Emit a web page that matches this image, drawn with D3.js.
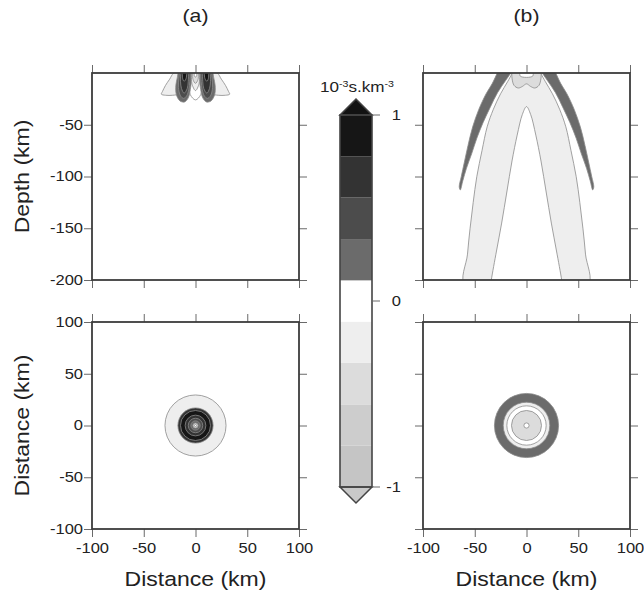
<!DOCTYPE html>
<html>
<head>
<meta charset="utf-8">
<script src="https://cdn.jsdelivr.net/npm/d3@7"></script>
<style>
  body { margin: 0; background: #fff; }
  svg { display: block; }
  text { font-family: "Liberation Sans", Arial, Helvetica, sans-serif; fill: #222; }
</style>
</head>
<body>
<svg id="fig" width="644" height="594"></svg>
<script>
// ---- colour classes of the kernel (10^-3 s.km^-3) ----
const levelEdges = [-1, -0.778, -0.556, -0.333, -0.111, 0.111, 0.333, 0.556, 0.778, 1];
const levelFills = ["#c5c5c5", "#cdcdcd", "#dcdcdc", "#eeeeee", "#ffffff", "#6b6b6b", "#4c4c4c", "#333333", "#161616"];
const belowFill = "#c9c9c9";
const aboveFill = "#121212";
const barTicks = [-1, 0, 1];

// ---- axis ticks ----
const distTicks = [-100, -50, 0, 50, 100];
const depthTicks = [-200, -150, -100, -50];
const panelTitles = ["(a)", "(b)"];

// ---- panel (a), depth section: contour outlines as [distance km, depth km] ----
const aPetalLeft  = [[-12, 3], [-21, 0], [-25, -6], [-29, -12], [-32, -18], [-33, -20.5], [-29, -21.5], [-22, -21.5], [-16, -20], [-12, -10], [-10, 3]];
const aPetalRight = [[12, 3], [21, 0], [25, -6], [29, -12], [32, -18], [33, -20.5], [29, -21.5], [22, -21.5], [16, -20], [12, -10], [10, 3]];
const aCore1 = [[-6, 3], [-6, -12], [-5, -21], [0, -26], [5, -21], [6, -12], [6, 3]];
const aLobeL1 = [[-3.5, 3], [-4, -8], [-5, -16], [-7, -24], [-10.5, -28], [-15, -27], [-18.5, -21], [-19, -12], [-17.5, -4], [-16.5, 3]];
const aLobeL2 = [[-5, 3], [-5.5, -8], [-6.5, -16], [-8.5, -22], [-11.5, -24.5], [-14.5, -22], [-16.5, -14], [-16, -5], [-15, 3]];
const aLobeL3 = [[-6.5, 3], [-7, -8], [-8, -15], [-11, -19.5], [-13.5, -15], [-14.5, -8], [-14, 3]];
const aLobeL4 = [[-8.5, 3], [-9, -5], [-11, -8], [-12.5, -5], [-12.5, 3]];
const aLobeR1 = [[3.5, 3], [4, -8], [5, -16], [7, -24], [10.5, -28], [15, -27], [18.5, -21], [19, -12], [17.5, -4], [16.5, 3]];
const aLobeR2 = [[5, 3], [5.5, -8], [6.5, -16], [8.5, -22], [11.5, -24.5], [14.5, -22], [16.5, -14], [16, -5], [15, 3]];
const aLobeR3 = [[6.5, 3], [7, -8], [8, -15], [11, -19.5], [13.5, -15], [14.5, -8], [14, 3]];
const aLobeR4 = [[8.5, 3], [9, -5], [11, -8], [12.5, -5], [12.5, 3]];
const aCore2 = [[-3.5, 3], [-3.5, -10], [0, -17], [3.5, -10], [3.5, 3]];
const aCore3 = [[-2.5, 3], [-2.5, -6], [0, -10], [2.5, -6], [2.5, 3]];
const aCore4 = [[-1, 3], [-1, -3], [0, -4], [1, -3], [1, 3]];
const aSectionShapes = [aPetalLeft, aPetalRight, aCore1, aLobeL1, aLobeR1, aLobeL2, aLobeR2, aLobeL3, aLobeR3, aLobeL4, aLobeR4, aCore2, aCore3, aCore4];
const aSectionValues = [-0.2, -0.2, 0, 0.2, 0.2, 0.45, 0.45, 0.65, 0.65, 0.9, 0.9, -0.2, -0.45, 0];

// ---- panel (b), depth section ----
const bLight = [[-12, 3], [-18, -8], [-25, -20], [-32, -35], [-38, -52], [-43, -75], [-48, -100], [-51.5, -125], [-54.5, -150], [-57, -175], [-59, -206],
                [59, -206], [57, -175], [54.5, -150], [51.5, -125], [48, -100], [43, -75], [38, -52], [32, -35], [25, -20], [18, -8], [12, 3]];
const bCore = [[-35, -208], [-34, -200], [-29, -172], [-24, -145], [-19, -115], [-14, -85], [-9, -60], [-4, -40], [0, -32.5],
               [4, -40], [9, -60], [14, -85], [19, -115], [24, -145], [29, -172], [34, -200], [35, -208]];
const bBandLeft = [[-27, 3], [-33, -10], [-39, -20], [-46, -35], [-52, -52], [-56.5, -70], [-60, -86], [-63, -100], [-65, -110],
                   [-64, -113], [-61.5, -104], [-58, -92], [-53, -78], [-48, -63], [-42, -48], [-35, -33], [-28, -19], [-20, -7], [-13, 3]];
const bBandRight = [[27, 3], [33, -10], [39, -20], [46, -35], [52, -52], [56.5, -70], [60, -86], [63, -100], [65, -110],
                    [64, -113], [61.5, -104], [58, -92], [53, -78], [48, -63], [42, -48], [35, -33], [28, -19], [20, -7], [13, 3]];
const bBlob = [[-14, 3], [-14, -5], [-12, -12], [-8, -14.5], [-4, -13], [0, -10.5], [4, -13], [8, -14.5], [12, -12], [14, -5], [14, 3]];
const bSlot = [[-6, 3], [-6, -3], [6, -3], [6, 3]];
const bSectionShapes = [bLight, bCore, bBandLeft, bBandRight, bBlob, bSlot];
const bSectionValues = [-0.2, 0, 0.2, 0.2, -0.45, 0];

// ---- map views: concentric contour rings, outermost first (radius km) ----
const aMapRadii  = [29.5, 17, 14.5, 10, 7, 4.5, 2.5, 1];
const aMapValues = [-0.2, 0.65, 0.9, 0.65, 0.45, 0.2, -0.45, 0];
const bMapRadii  = [31, 22.5, 19, 14.5, 2.5];
const bMapValues = [0.2, -0.2, 0, -0.45, 0];

const fillOf = d3.scaleThreshold().domain(levelEdges.slice(1, -1)).range(levelFills);
const num = d => String(d);   // plain hyphen-minus for negative labels

const svg = d3.select("#fig");
const size = 207;
const colX = [92, 423];
const rowY = [73, 322];
const tickLen = 8;
const wide = 1.18;   // horizontal stretch of the lettering

const sectionShapes = [aSectionShapes, bSectionShapes];
const sectionValues = [aSectionValues, bSectionValues];
const mapRadii = [aMapRadii, bMapRadii];
const mapValues = [aMapValues, bMapValues];

// text drawn at (x, y), widened along its own direction
function label(x, y, str, fontSize, opts = {}) {
  const rot = opts.rotate ? ` rotate(${opts.rotate})` : "";
  return svg.append("text")
    .attr("transform", `translate(${x},${y})${rot} scale(${wide},1)`)
    .attr("text-anchor", opts.anchor || "middle")
    .attr("font-size", fontSize).text(str);
}

function styleAxis(g) {
  g.select(".domain").remove();
  g.selectAll(".tick line").attr("stroke", "#6a6a6a").attr("stroke-width", 1);
  g.selectAll(".tick text").attr("font-size", 14).attr("fill", "#222")
    .attr("font-family", "Liberation Sans, Arial, sans-serif")
    .each(function () {
      const t = d3.select(this);
      const tx = +t.attr("x") || 0;
      t.attr("x", tx / wide).attr("transform", `scale(${wide},1)`);
    });
}

colX.forEach((x0, col) => {
  const x = d3.scaleLinear().domain([-100, 100]).range([x0, x0 + size]);
  const yDepth = d3.scaleLinear().domain([0, -200]).range([rowY[0], rowY[0] + size]);
  const yDist = d3.scaleLinear().domain([100, -100]).range([rowY[1], rowY[1] + size]);

  // ---------- depth section ----------
  const clipTop = "clip-top-" + col;
  svg.append("clipPath").attr("id", clipTop).append("rect")
    .attr("x", x0).attr("y", rowY[0]).attr("width", size).attr("height", size);
  const line = d3.line().x(d => x(d[0])).y(d => yDepth(d[1])).curve(d3.curveCatmullRom.alpha(0.5));
  svg.append("g").attr("clip-path", `url(#${clipTop})`)
    .selectAll("path").data(sectionShapes[col]).join("path")
    .attr("d", d => line(d) + "Z")
    .attr("fill", (d, i) => fillOf(sectionValues[col][i]))
    .attr("stroke", "#8a8a8a").attr("stroke-width", 0.8);

  // ---------- map view ----------
  const clipBot = "clip-bot-" + col;
  svg.append("clipPath").attr("id", clipBot).append("rect")
    .attr("x", x0).attr("y", rowY[1]).attr("width", size).attr("height", size);
  svg.append("g").attr("clip-path", `url(#${clipBot})`)
    .selectAll("circle").data(mapRadii[col]).join("circle")
    .attr("cx", x(0)).attr("cy", yDist(0))
    .attr("r", d => x(d) - x(0))
    .attr("fill", (d, i) => fillOf(mapValues[col][i]))
    .attr("stroke", "#8a8a8a").attr("stroke-width", 0.8);

  // ---------- axes ----------
  const showY = col === 0;
  // depth section
  svg.append("g").attr("transform", `translate(0,${rowY[0]})`)
    .call(d3.axisTop(x).tickValues(distTicks).tickSize(tickLen).tickFormat("")).call(styleAxis);
  svg.append("g").attr("transform", `translate(0,${rowY[0] + size})`)
    .call(d3.axisBottom(x).tickValues(distTicks).tickSize(tickLen).tickFormat("")).call(styleAxis);
  svg.append("g").attr("transform", `translate(${x0},0)`)
    .call(d3.axisLeft(yDepth).tickValues(depthTicks).tickSize(tickLen).tickPadding(1)
      .tickFormat(showY ? num : "")).call(styleAxis);
  svg.append("g").attr("transform", `translate(${x0 + size},0)`)
    .call(d3.axisRight(yDepth).tickValues(depthTicks).tickSize(tickLen).tickFormat("")).call(styleAxis);
  // map view
  svg.append("g").attr("transform", `translate(0,${rowY[1]})`)
    .call(d3.axisTop(x).tickValues(distTicks).tickSize(tickLen).tickFormat("")).call(styleAxis);
  svg.append("g").attr("transform", `translate(0,${rowY[1] + size})`)
    .call(d3.axisBottom(x).tickValues(distTicks).tickSize(tickLen).tickPadding(6).tickFormat(num)).call(styleAxis);
  svg.append("g").attr("transform", `translate(${x0},0)`)
    .call(d3.axisLeft(yDist).tickValues(distTicks).tickSize(tickLen).tickPadding(1)
      .tickFormat(showY ? num : "")).call(styleAxis);
  svg.append("g").attr("transform", `translate(${x0 + size},0)`)
    .call(d3.axisRight(yDist).tickValues(distTicks).tickSize(tickLen).tickFormat("")).call(styleAxis);

  // frames
  rowY.forEach(y0 => {
    svg.append("rect").attr("x", x0).attr("y", y0).attr("width", size).attr("height", size)
      .attr("fill", "none").attr("stroke", "#3c3c3c").attr("stroke-width", 1.8);
  });

  // titles and axis labels
  label(x(0), 22, panelTitles[col], 18);
  label(x(0), 586, "Distance (km)", 19.5);
  if (showY) {
    label(29, yDepth(-100), "Depth (km)", 19.5, { rotate: -90 });
    label(29, yDist(0), "Distance (km)", 19.5, { rotate: -90 });
  }
});

// ---------- colour bar ----------
const barL = 340, barW = 32, capH = 16;
const yBar = d3.scaleLinear().domain([-1, 1]).range([487, 115]);
const bar = svg.append("g");
bar.selectAll("rect").data(levelFills).join("rect")
  .attr("x", barL).attr("width", barW)
  .attr("y", (d, i) => yBar(levelEdges[i + 1]))
  .attr("height", (d, i) => yBar(levelEdges[i]) - yBar(levelEdges[i + 1]))
  .attr("fill", d => d);
bar.append("path")
  .attr("d", `M${barL},${yBar(1)}L${barL + barW / 2},${yBar(1) - capH}L${barL + barW},${yBar(1)}Z`)
  .attr("fill", aboveFill).attr("stroke", "#444").attr("stroke-width", 1.5);
bar.append("path")
  .attr("d", `M${barL},${yBar(-1)}L${barL + barW / 2},${yBar(-1) + capH}L${barL + barW},${yBar(-1)}Z`)
  .attr("fill", belowFill).attr("stroke", "#444").attr("stroke-width", 1.5);
bar.append("rect").attr("x", barL).attr("y", yBar(1)).attr("width", barW)
  .attr("height", yBar(-1) - yBar(1)).attr("fill", "none").attr("stroke", "#444").attr("stroke-width", 1.6);
bar.selectAll("line.bt").data(barTicks).join("line").attr("class", "bt")
  .attr("x1", barL + barW).attr("x2", barL + barW + 8)
  .attr("y1", d => yBar(d)).attr("y2", d => yBar(d))
  .attr("stroke", "#6a6a6a");
barTicks.forEach(v => label(401, yBar(v) + 5, num(v), 14, { anchor: "end" }));

const unit = label(barL + barW / 2 + 1, 92, "", 14.5);
unit.append("tspan").text("10");
unit.append("tspan").attr("dy", -5).attr("font-size", 9).text("-3");
unit.append("tspan").attr("dy", 5).text("s.km");
unit.append("tspan").attr("dy", -5).attr("font-size", 9).text("-3");
</script>
</body>
</html>
